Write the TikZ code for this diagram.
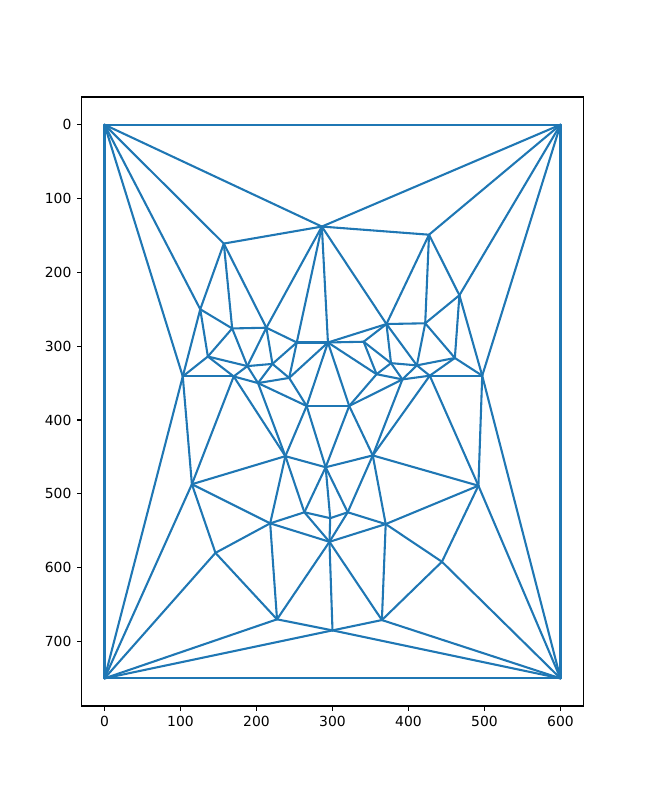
\documentclass[tikz,border=0pt]{standalone}
\usepackage{fontspec}
\setmainfont{DejaVu Sans}
\definecolor{cXanhCanh}{HTML}{1F77B4}
\definecolor{cKhung}{HTML}{000000}

\begin{document}
\begin{tikzpicture}[x=0.01in, y=-0.01in,
  canh/.style={draw=cXanhCanh, line width=1.5bp, line join=round, line cap=round},
  khung/.style={draw=cKhung, line width=0.8bp},
  vach/.style={draw=cKhung, line width=0.8bp},
  nhan/.style={font=\fontsize{10bp}{12bp}\selectfont, inner sep=0pt, text=cKhung}
]
\useasboundingbox (0,0) rectangle (648,807);

% ── He truc du lieu: goc (0,0) o tren trai, truc y huong xuong ──
\begin{scope}[shift={(104.5,124.7)}, xscale=0.76, yscale=0.7382]

% Bon goc anh
\coordinate (g1) at (0,0);
\coordinate (g2) at (600,0);
\coordinate (g3) at (0,750);
\coordinate (g4) at (600,750);

% Cac diem moc tren khuon mat
\coordinate (d1)  at (286,138);
\coordinate (d2)  at (157,161);
\coordinate (d3)  at (427,149);
\coordinate (d4)  at (467,231);
\coordinate (d5)  at (126,250);
\coordinate (d6)  at (168,276);
\coordinate (d7)  at (213,275);
\coordinate (d8)  at (136,314);
\coordinate (d9)  at (103,341);
\coordinate (d10) at (170,341);
\coordinate (d11) at (188,327);
\coordinate (d12) at (253,295);
\coordinate (d13) at (294,295);
\coordinate (d14) at (221,324);
\coordinate (d15) at (202,350);
\coordinate (d16) at (243,343);
\coordinate (d17) at (371,270);
\coordinate (d18) at (422,269);
\coordinate (d19) at (341,294);
\coordinate (d20) at (461,316);
\coordinate (d21) at (497,340);
\coordinate (d22) at (377,323);
\coordinate (d23) at (411,326);
\coordinate (d24) at (358,338);
\coordinate (d25) at (392,345);
\coordinate (d26) at (428,340);
\coordinate (d27) at (266,381);
\coordinate (d28) at (238,449);
\coordinate (d29) at (291,464);
\coordinate (d30) at (115,487);
\coordinate (d31) at (263,525);
\coordinate (d32) at (218,540);
\coordinate (d33) at (296,565);
\coordinate (d34) at (146,580);
\coordinate (d35) at (322,381);
\coordinate (d36) at (353,448);
\coordinate (d37) at (492,489);
\coordinate (d38) at (320,525);
\coordinate (d39) at (297,533);
\coordinate (d40) at (370,541);
\coordinate (d41) at (444,592);
\coordinate (d42) at (227,670);
\coordinate (d43) at (300,685);
\coordinate (d44) at (365,671);

% ── Cac canh tam giac ──
\foreach \a/\b in {g1/g2, g1/g3, g1/d1, g1/d2, g1/d5, g1/d9,
  g2/g4, g2/d1, g2/d3, g2/d4, g2/d21,
  g3/g4, g3/d9, g3/d30, g3/d34, g3/d42, g3/d43,
  g4/d43, g4/d44, g4/d41, g4/d37, g4/d21,
  d1/d2, d1/d3, d1/d7, d1/d12, d1/d13, d1/d17,
  d2/d5, d2/d6, d2/d7, d3/d4, d3/d17, d3/d18,
  d4/d18, d4/d20, d4/d21, d5/d6, d5/d8, d5/d9,
  d6/d7, d6/d8, d6/d11, d7/d11, d7/d12, d7/d14,
  d8/d9, d8/d10, d8/d11, d9/d10, d9/d30,
  d10/d11, d10/d15, d10/d28, d10/d30, d11/d14, d11/d15,
  d12/d13, d12/d14, d12/d16,
  d13/d16, d13/d27, d13/d35, d13/d24, d13/d19, d13/d17,
  d14/d15, d14/d16, d15/d16, d15/d27, d15/d28, d16/d27,
  d17/d18, d17/d19, d17/d22, d17/d23, d18/d20, d18/d23,
  d19/d22, d19/d24, d20/d21, d20/d23, d20/d26, d21/d26, d21/d37,
  d22/d23, d22/d24, d22/d25, d23/d25, d23/d26, d24/d25, d24/d35,
  d25/d26, d25/d35, d25/d36, d26/d36, d26/d37,
  d27/d28, d27/d29, d27/d35, d28/d29, d28/d30, d28/d31, d28/d32,
  d29/d31, d29/d35, d29/d36, d29/d38, d29/d39,
  d30/d32, d30/d34, d31/d32, d31/d33, d31/d39,
  d32/d33, d32/d34, d32/d42,
  d33/d38, d33/d39, d33/d40, d33/d42, d33/d43, d33/d44,
  d34/d42, d35/d36, d36/d37, d36/d38, d36/d40,
  d37/d40, d37/d41, d38/d39, d38/d40, d40/d41, d40/d44,
  d41/d44, d42/d43, d43/d44}
  \draw[canh] (\a) -- (\b);

% ── Khung truc va vach chia ──
\draw[khung] (-30,-37.5) rectangle (630,787.5);
\foreach \x in {0,100,...,600}
  \draw[vach] (\x,787.5) -- ++(0,6.6) node[nhan, anchor=north, yshift=-3.5bp] (nx\x) {\x};
\foreach \y in {0,100,...,700}
  \draw[vach] (-30,\y) -- ++(-6.4,0) node[nhan, anchor=east, xshift=-3.5bp] (ny\y) {\y};

\end{scope}
\end{tikzpicture}
\end{document}
